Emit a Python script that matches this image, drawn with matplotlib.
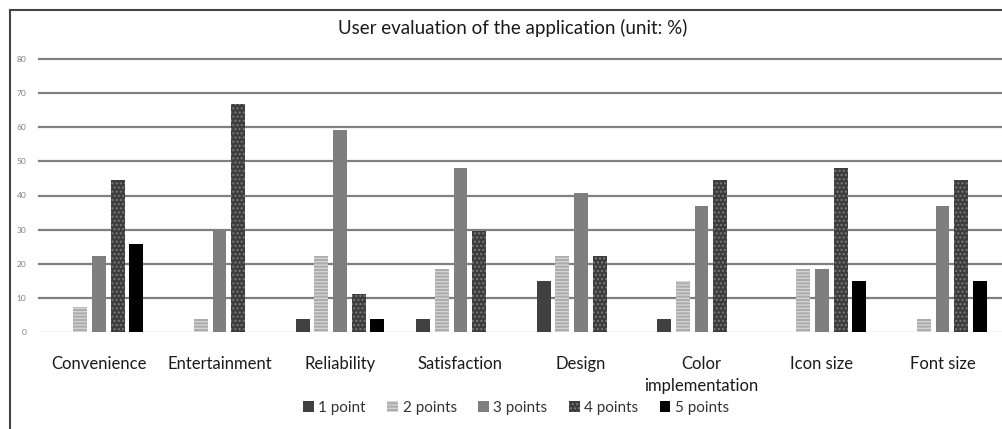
import numpy as np
import matplotlib
matplotlib.use("Agg")
import matplotlib.pyplot as plt
from matplotlib.lines import Line2D

categories = ["Convenience", "Entertainment", "Reliability", "Satisfaction",
              "Design", "Color\nimplementation", "Icon size", "Font size"]
series_names = ["1 point", "2 points", "3 points", "4 points", "5 points"]

point1 = [0, 0, 3.7, 3.7, 14.8, 3.7, 0, 0]
point2 = [7.4, 3.7, 22.2, 18.5, 22.2, 14.8, 18.5, 3.7]
point3 = [22.2, 29.6, 59.3, 48.1, 40.7, 37.0, 18.5, 37.0]
point4 = [44.4, 66.7, 11.1, 29.6, 22.2, 44.4, 48.1, 44.4]
point5 = [25.9, 0, 3.7, 0, 0, 0, 14.8, 14.8]
series = [point1, point2, point3, point4, point5]

# fill colour, hatch colour, hatch pattern
styles = [
    ("#404040", "#404040", None),
    ("#ababab", "#d4d4d4", "-----"),
    ("#7f7f7f", "#7f7f7f", None),
    ("#3c3c3c", "#7a7a7a", "...."),
    ("#000000", "#000000", None),
]

plt.rcParams['font.family'] = ['Lato', 'DejaVu Sans']
plt.rcParams['hatch.linewidth'] = 1.0

fig = plt.figure(figsize=(10.02, 4.29), dpi=100)
ax = fig.add_axes([38.75 / 1002, 1 - 332 / 429, 964 / 1002, 273 / 429])

x = np.arange(len(categories))
step = 0.154
width = 0.116
for i, (vals, name, (fc, hc, hatch)) in enumerate(zip(series, series_names, styles)):
    ax.bar(x + (i - 2) * step, vals, width, color=fc, edgecolor=hc,
           linewidth=0, hatch=hatch, label=name, zorder=3)

ax.set_xlim(-0.5, len(categories) - 0.5)
ax.set_ylim(0, 80)
ax.set_yticks(range(0, 81, 10))
for yv in range(10, 81, 10):
    ax.axhline(yv, color="#808080", linewidth=1.6, zorder=1, clip_on=False)
ax.axhline(0, color="#d0d0d0", linewidth=1.0, zorder=1)

ax.set_xticks(x)
ax.set_xticklabels(categories, fontsize=12, color="#1a1a1a", linespacing=1.5,
                   va="top")
ax.tick_params(axis="x", length=0, pad=17)
ax.tick_params(axis="y", length=0, pad=9, labelsize=6, labelcolor="#808080")
for s in ax.spines.values():
    s.set_visible(False)

fig.text(0.512, 0.935, "User evaluation of the application (unit: %)",
         ha="center", va="center", fontsize=13.5, color="#1a1a1a")

handles, labels = ax.get_legend_handles_labels()
fig.legend(handles, labels, loc="center", bbox_to_anchor=(0.515, 0.049),
           ncol=5, frameon=False, fontsize=11, handlelength=0.7,
           handleheight=0.7, handletextpad=0.3, columnspacing=1.4,
           labelcolor="#333333")

# chart frame (top and left edges)
fig.add_artist(Line2D([10 / 1002, 10 / 1002], [0, 1 - 10 / 429],
                      color="#444444", linewidth=1.5))
fig.add_artist(Line2D([10 / 1002, 1], [1 - 10 / 429, 1 - 10 / 429],
                      color="#444444", linewidth=1.5))

fig.savefig("out.png", dpi=100, facecolor="white")
